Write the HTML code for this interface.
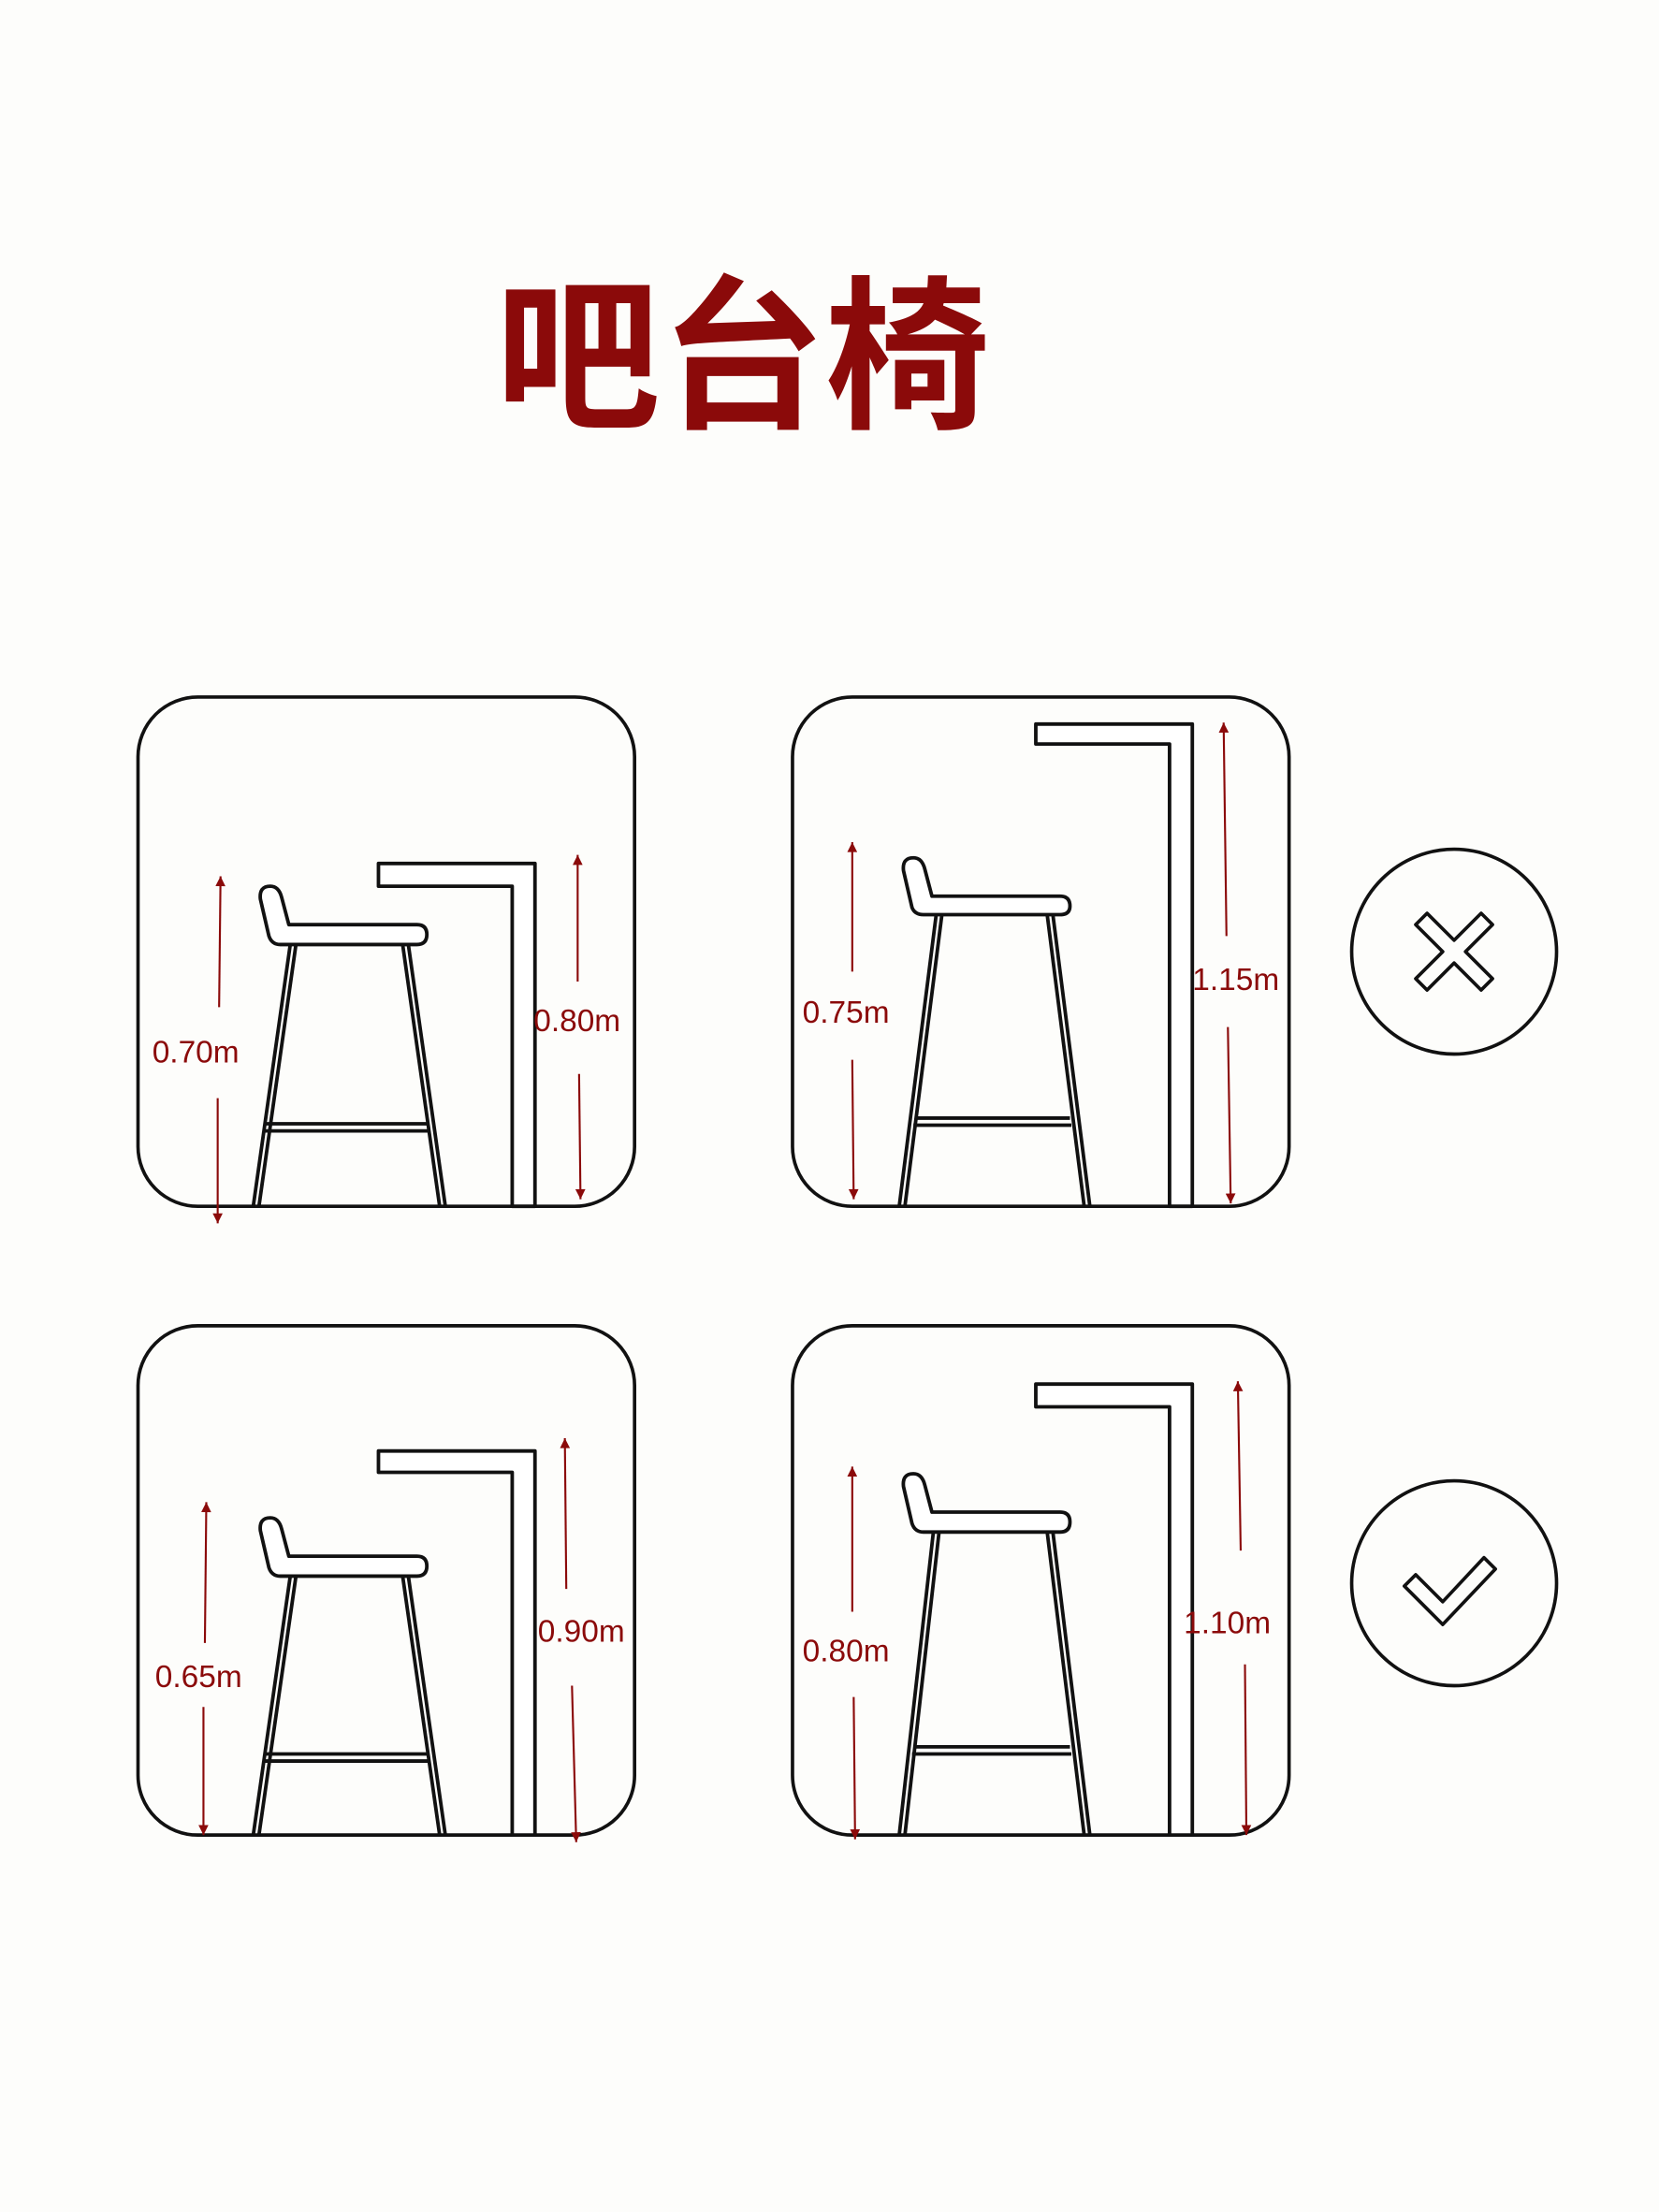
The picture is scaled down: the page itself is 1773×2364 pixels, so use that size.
<!DOCTYPE html>
<html><head><meta charset="utf-8"><style>
html,body{margin:0;padding:0;background:#fdfdfb;}
svg{display:block;}
.t{font-family:"Liberation Sans","Noto Sans CJK SC",sans-serif;fill:#8b0a0a;font-size:22px;}
</style></head><body>
<svg width="1773" height="2364" viewBox="0 0 1166 1555" preserveAspectRatio="none" xmlns="http://www.w3.org/2000/svg">
<defs>
<marker id="ah" viewBox="0 0 10 10" refX="10" refY="5" markerUnits="userSpaceOnUse" markerWidth="11" markerHeight="7" orient="auto"><path d="M0,0 L10,5 L0,10 z" fill="#8b0a0a"/></marker>
</defs>
<rect width="1166" height="1555" fill="#fdfdfb"/>
<text x="522" y="292" text-anchor="middle" style="font-family:'Noto Sans CJK SC','WenQuanYi Zen Hei',sans-serif;font-weight:700;font-size:116px;fill:#8b0a0a;letter-spacing:0px">吧台椅</text>

<g fill="none" stroke="#111" stroke-width="2.4">
<rect x="97" y="490" width="349" height="358" rx="42"/>
<rect x="557" y="490" width="349" height="358" rx="42"/>
<rect x="97" y="932" width="349" height="358" rx="42"/>
<rect x="557" y="932" width="349" height="358" rx="42"/>
<circle cx="1022" cy="669" r="72"/>
<circle cx="1022" cy="1113" r="72"/>
<path d="M995,634 L1003,626 L1022,645 L1041,626 L1049,634 L1030,653 L1049,672 L1041,680 L1022,661 L1003,680 L995,672 L1014,653 Z" stroke-linejoin="round" transform="translate(0,16)"/>
<path d="M987,1106 L995,1098 L1014,1117 L1043,1086 L1051,1094 L1014,1133 Z" stroke-linejoin="round" transform="translate(0,9)"/>
</g>

<g fill="#fff" stroke="#111" stroke-width="2.5" stroke-linejoin="round">
<g transform="translate(183,650)">
<path d="M21,14 L-5,198 M25,14 L-1,198 M100,14 L126,198 M104,14 L130,198"/>
<path d="M4,140 L118,140 M3,145 L119,145" fill="none"/>
<path d="M20,0 L110,0 Q117,0 117,7 Q117,14 110,14 L14,14 Q8,14 6,8 L0,-18 Q-1,-27 7,-27 Q13,-27 15,-19 Z"/>
</g>
<path d="M266,607 L376,607 L376,848 L360,848 L360,623 L266,623 Z"/>
<g transform="translate(635,630)">
<path d="M23,13 L-3,218 M27,13 L1,218 M101,13 L127,218 M105,13 L131,218"/>
<path d="M8,156 L117,156 M7,161 L118,161" fill="none"/>
<path d="M20,0 L110,0 Q117,0 117,7 Q117,13 110,13 L14,13 Q8,13 6,8 L0,-18 Q-1,-27 7,-27 Q13,-27 15,-19 Z"/>
</g>
<path d="M728,509 L838,509 L838,848 L822,848 L822,523 L728,523 Z"/>
<g transform="translate(183,1094)">
<path d="M21,14 L-5,196 M25,14 L-1,196 M100,14 L126,196 M104,14 L130,196"/>
<path d="M4,139 L118,139 M3,144 L119,144" fill="none"/>
<path d="M20,0 L110,0 Q117,0 117,7 Q117,14 110,14 L14,14 Q8,14 6,8 L0,-18 Q-1,-27 7,-27 Q13,-27 15,-19 Z"/>
</g>
<path d="M266,1020 L376,1020 L376,1290 L360,1290 L360,1035 L266,1035 Z"/>
<g transform="translate(635,1063)">
<path d="M21,14 L-3,227 M25,14 L1,227 M101,14 L127,227 M105,14 L131,227"/>
<path d="M7,165 L117,165 M6,170 L118,170" fill="none"/>
<path d="M20,0 L110,0 Q117,0 117,7 Q117,14 110,14 L14,14 Q8,14 6,8 L0,-18 Q-1,-27 7,-27 Q13,-27 15,-19 Z"/>
</g>
<path d="M728,973 L838,973 L838,1290 L822,1290 L822,989 L728,989 Z"/>
</g>

<g stroke="#8b0a0a" stroke-width="1.4" fill="none">
<line x1="154" y1="708" x2="155" y2="616" marker-end="url(#ah)"/>
<line x1="153" y1="772" x2="153" y2="860" marker-end="url(#ah)"/>
<line x1="406" y1="690" x2="406" y2="601" marker-end="url(#ah)"/>
<line x1="407" y1="755" x2="408" y2="843" marker-end="url(#ah)"/>
<line x1="599" y1="683" x2="599" y2="592" marker-end="url(#ah)"/>
<line x1="599" y1="745" x2="600" y2="843" marker-end="url(#ah)"/>
<line x1="862" y1="658" x2="860" y2="508" marker-end="url(#ah)"/>
<line x1="863" y1="722" x2="865" y2="846" marker-end="url(#ah)"/>
<line x1="144" y1="1155" x2="145" y2="1056" marker-end="url(#ah)"/>
<line x1="143" y1="1200" x2="143" y2="1290" marker-end="url(#ah)"/>
<line x1="398" y1="1117" x2="397" y2="1011" marker-end="url(#ah)"/>
<line x1="402" y1="1185" x2="405" y2="1295" marker-end="url(#ah)"/>
<line x1="599" y1="1133" x2="599" y2="1031" marker-end="url(#ah)"/>
<line x1="600" y1="1193" x2="601" y2="1293" marker-end="url(#ah)"/>
<line x1="872" y1="1090" x2="870" y2="971" marker-end="url(#ah)"/>
<line x1="875" y1="1170" x2="876" y2="1290" marker-end="url(#ah)"/>
</g>
<text class="t" x="107" y="747">0.70m</text>
<text class="t" x="375" y="725">0.80m</text>
<text class="t" x="564" y="719">0.75m</text>
<text class="t" x="838" y="696">1.15m</text>
<text class="t" x="109" y="1186">0.65m</text>
<text class="t" x="378" y="1154">0.90m</text>
<text class="t" x="564" y="1168">0.80m</text>
<text class="t" x="832" y="1148">1.10m</text>
</svg>
</body></html>
